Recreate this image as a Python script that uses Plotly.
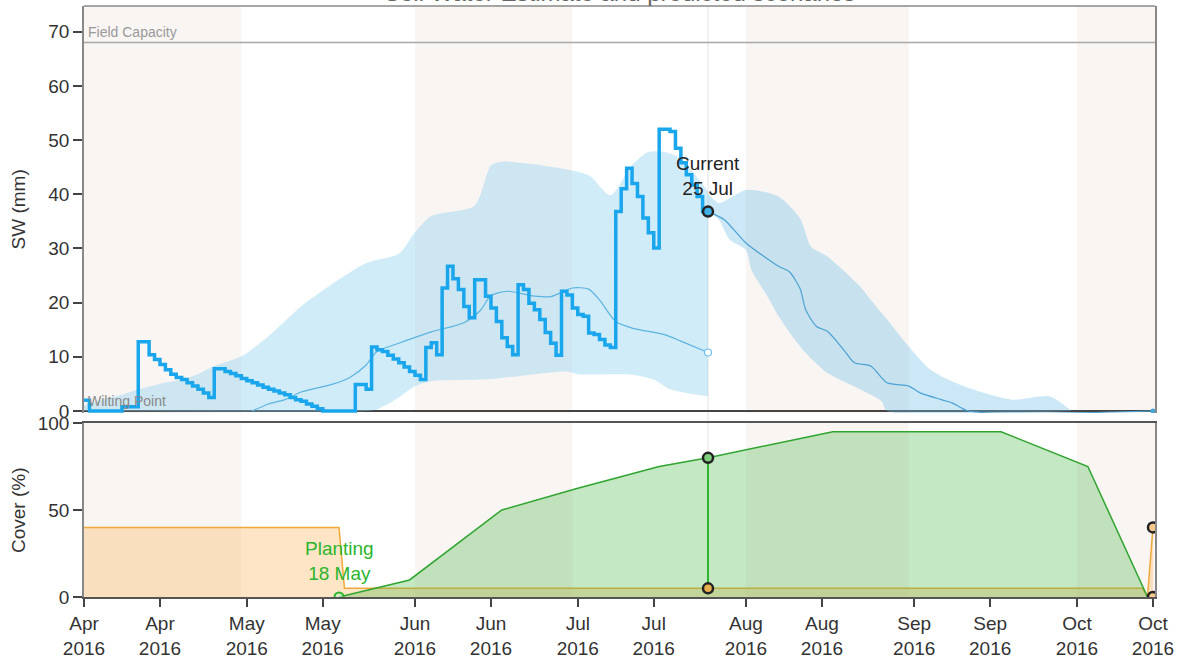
import pandas as pd
import plotly.graph_objects as go

# ---------------- data ----------------
obs_start = "2016-04-01"
# Daily soil-water estimate (mm) from 1 Apr to 25 Jul 2016
sw_observed = [2.0, 0, 0, 0, 0, 0, 0, 0.8, 0.8, 0.8,
               12.8, 12.8, 10.4, 9.5, 8.6, 7.6, 6.8, 6.2, 5.8, 5.2,
               4.6, 4.0, 3.3, 2.5, 7.8, 7.8, 7.3, 6.9, 6.5, 6.0,
               5.6, 5.2, 4.8, 4.4, 4.0, 3.7, 3.3, 3.0, 2.5, 2.1,
               1.8, 1.3, 0.9, 0.4, 0, 0, 0, 0, 0, 0,
               4.9, 4.9, 4.0, 11.8, 11.3, 11.0, 10.3, 9.6, 8.9, 8.1,
               7.3, 6.6, 5.8, 11.7, 12.6, 10.4, 22.7, 26.7, 24.4, 22.4,
               19.3, 17.2, 24.2, 24.2, 21.2, 19.0, 16.5, 13.5, 11.9, 10.4,
               23.3, 22.4, 19.9, 18.7, 16.9, 14.5, 12.5, 10.3, 22.1, 21.4,
               19.0, 17.8, 17.5, 14.4, 14.1, 13.2, 12.2, 11.7, 36.8, 41.0,
               44.8, 42.0, 39.6, 35.6, 32.9, 30.1, 52.0, 52.0, 51.6, 48.5,
               45.8, 43.6, 41.7, 39.6, 36.8, 36.8]

# Historical range up to the current date
hist_upper_dates = ["2016-04-01", "2016-04-04", "2016-04-08", "2016-04-11", "2016-04-15",
                    "2016-04-19", "2016-04-22", "2016-04-25", "2016-04-30", "2016-05-05",
                    "2016-05-11", "2016-05-17", "2016-05-23", "2016-05-29", "2016-06-01",
                    "2016-06-04", "2016-06-12", "2016-06-15", "2016-06-17", "2016-06-24",
                    "2016-07-03", "2016-07-07", "2016-07-11", "2016-07-14", "2016-07-17",
                    "2016-07-20", "2016-07-25"]
hist_upper = [1.0, 2.0, 3.0, 4.0, 5.0, 5.8, 6.8, 8.3, 10.1, 13.8,
              19.3, 23.6, 27.3, 29.0, 33.0, 36.0, 37.9, 45.3, 46.0, 45.4,
              43.5, 39.8, 45.4, 47.8, 47.8, 46.6, 40.5]
hist_lower_dates = ["2016-04-01", "2016-05-23", "2016-05-25", "2016-05-29", "2016-06-01",
                    "2016-06-04", "2016-06-13", "2016-06-17", "2016-06-29", "2016-07-01",
                    "2016-07-11", "2016-07-15", "2016-07-18", "2016-07-25"]
hist_lower = [0, 0, 0.3, 2.5, 4.6, 5.5, 5.8, 6.1, 7.3, 6.8, 6.7, 5.8, 4.0, 2.7]
hist_median_dates = ["2016-05-02", "2016-05-05", "2016-05-08", "2016-05-11", "2016-05-17",
                     "2016-05-20", "2016-05-23", "2016-05-25", "2016-05-29", "2016-06-04",
                     "2016-06-10", "2016-06-13", "2016-06-15", "2016-06-18", "2016-06-23",
                     "2016-06-26", "2016-06-30", "2016-07-03", "2016-07-05", "2016-07-08",
                     "2016-07-11", "2016-07-17", "2016-07-20", "2016-07-25"]
hist_median = [0, 1.3, 2.1, 3.5, 5.0, 6.2, 8.5, 11.0, 12.5, 14.6,
               16.3, 18.5, 21.3, 22.1, 21.2, 21.1, 22.7, 22.5, 20.5, 16.5,
               15.3, 14.1, 12.9, 10.8]

# Forecast range from the current date
fc_upper_dates = ["2016-07-25", "2016-07-27", "2016-08-01", "2016-08-07", "2016-08-11",
                  "2016-08-13", "2016-08-16", "2016-08-22", "2016-08-24", "2016-08-27",
                  "2016-08-31", "2016-09-04", "2016-09-10", "2016-09-19", "2016-09-26",
                  "2016-09-30"]
fc_upper = [40.2, 38.4, 40.8, 39.6, 35.5, 30.3, 28.5, 23.0, 20.5, 16.9,
            11.9, 7.6, 4.6, 2.1, 2.7, 0]
fc_lower_dates = ["2016-07-25", "2016-07-27", "2016-07-29", "2016-08-01", "2016-08-02",
                  "2016-08-05", "2016-08-07", "2016-08-10", "2016-08-12", "2016-08-16",
                  "2016-08-22", "2016-08-26", "2016-08-27", "2016-09-30"]
fc_lower = [36.8, 35.3, 31.6, 29.7, 26.0, 21.1, 17.5, 13.2, 10.7, 7.0, 4.0, 1.8, 0, 0]
fc_median_dates = ["2016-07-25", "2016-07-28", "2016-08-01", "2016-08-07", "2016-08-09",
                   "2016-08-11", "2016-08-12", "2016-08-14", "2016-08-16", "2016-08-19",
                   "2016-08-21", "2016-08-24", "2016-08-27", "2016-08-31", "2016-09-02",
                   "2016-09-06", "2016-09-08", "2016-09-11", "2016-10-15"]
fc_median = [36.8, 35.3, 31.0, 26.7, 25.7, 22.5, 18.7, 15.6, 14.7, 11.3,
             8.9, 8.3, 5.2, 4.6, 3.4, 2.1, 1.5, 0, 0]

field_capacity = 68
wilting_point = 0

current_date = "2016-07-25"
current_sw = 36.8
current_median = 10.8

# Cover (%)
crop_dates = ["2016-05-18", "2016-05-31", "2016-06-17", "2016-07-01", "2016-07-16",
              "2016-07-25", "2016-08-17", "2016-09-17", "2016-10-03", "2016-10-14"]
crop_cover = [0, 9.8, 50, 62.5, 75, 80, 95, 95, 75, 0]
residue_dates = ["2016-04-01", "2016-05-18", "2016-05-19", "2016-10-13", "2016-10-14", "2016-10-15"]
residue_cover = [40, 40, 5, 5, 0.5, 40]
planting_date = "2016-05-18"
current_crop_cover = 80
current_residue_cover = 5
end_date = "2016-10-15"
end_residue_cover = 40

tick_dates = ["2016-04-01", "2016-04-15", "2016-05-01", "2016-05-15", "2016-06-01",
              "2016-06-15", "2016-07-01", "2016-07-15", "2016-08-01", "2016-08-15",
              "2016-09-01", "2016-09-15", "2016-10-01", "2016-10-15"]
shaded_months = [("2016-04-01", "2016-04-30"), ("2016-06-01", "2016-06-30"),
                 ("2016-08-01", "2016-08-31"), ("2016-10-01", "2016-10-15 09:00")]
x_range = ["2016-04-01", "2016-10-15 09:00"]

# ---------------- figure ----------------
FONT = "Liberation Sans, Arial, sans-serif"
obs_dates = pd.date_range(obs_start, periods=len(sw_observed), freq="D")

fig = go.Figure()

# historical band
fig.add_trace(go.Scatter(x=hist_lower_dates, y=hist_lower, mode="lines",
                         line=dict(width=0, shape="spline", smoothing=0.7),
                         xaxis="x", yaxis="y", hoverinfo="skip"))
fig.add_trace(go.Scatter(x=hist_upper_dates, y=hist_upper, mode="lines",
                         line=dict(width=0, shape="spline", smoothing=0.7),
                         fill="tonexty", fillcolor="rgba(135,206,240,0.38)",
                         xaxis="x", yaxis="y", hoverinfo="skip"))
# forecast band
fig.add_trace(go.Scatter(x=fc_lower_dates, y=fc_lower, mode="lines",
                         line=dict(width=0, shape="spline", smoothing=0.7),
                         xaxis="x", yaxis="y", hoverinfo="skip"))
fig.add_trace(go.Scatter(x=fc_upper_dates, y=fc_upper, mode="lines",
                         line=dict(width=0, shape="spline", smoothing=0.7),
                         fill="tonexty", fillcolor="rgba(115,192,232,0.36)",
                         xaxis="x", yaxis="y", hoverinfo="skip"))
# medians
fig.add_trace(go.Scatter(x=hist_median_dates, y=hist_median, mode="lines",
                         line=dict(width=1.2, color="#5ab4e0", shape="spline", smoothing=0.7),
                         xaxis="x", yaxis="y"))
fig.add_trace(go.Scatter(x=fc_median_dates, y=fc_median, mode="lines",
                         line=dict(width=1.2, color="#4aa3d3", shape="spline", smoothing=0.7),
                         xaxis="x", yaxis="y"))
# observed daily soil water
fig.add_trace(go.Scatter(x=obs_dates, y=sw_observed, mode="lines",
                         line=dict(width=3.5, color="#19a6ec", shape="hv"),
                         xaxis="x", yaxis="y"))
# markers at the current date
fig.add_trace(go.Scatter(x=[current_date], y=[current_median], mode="markers",
                         marker=dict(size=7, color="white", line=dict(width=1.2, color="#6ec0e8")),
                         xaxis="x", yaxis="y"))
fig.add_trace(go.Scatter(x=[current_date], y=[current_sw], mode="markers",
                         marker=dict(size=10, color="#3fb0e6", line=dict(width=2.5, color="#222")),
                         xaxis="x", yaxis="y"))
fig.add_trace(go.Scatter(x=[end_date], y=[wilting_point], mode="markers",
                         marker=dict(size=5, color="#4aa3d3"),
                         xaxis="x", yaxis="y"))

# cover panel
fig.add_trace(go.Scatter(x=residue_dates, y=residue_cover, mode="lines",
                         line=dict(width=1.5, color="#f2a93b"),
                         fill="tozeroy", fillcolor="rgba(250,190,110,0.40)",
                         xaxis="x2", yaxis="y2"))
fig.add_trace(go.Scatter(x=crop_dates, y=crop_cover, mode="lines",
                         line=dict(width=1.5, color="#2fa52f"),
                         fill="tozeroy", fillcolor="rgba(70,185,70,0.32)",
                         xaxis="x2", yaxis="y2"))
fig.add_trace(go.Scatter(x=[current_date, current_date],
                         y=[current_residue_cover, current_crop_cover], mode="lines",
                         line=dict(width=2, color="#2db52d"),
                         xaxis="x2", yaxis="y2"))
fig.add_trace(go.Scatter(x=[planting_date], y=[0], mode="markers",
                         marker=dict(size=9, color="rgba(200,240,200,0.6)",
                                     line=dict(width=2, color="#2db52d")),
                         xaxis="x2", yaxis="y2"))
fig.add_trace(go.Scatter(x=[current_date], y=[current_crop_cover], mode="markers",
                         marker=dict(size=10, color="#7fcf7f", line=dict(width=2.5, color="#222")),
                         xaxis="x2", yaxis="y2"))
fig.add_trace(go.Scatter(x=[current_date], y=[current_residue_cover], mode="markers",
                         marker=dict(size=10, color="#e8b050", line=dict(width=2.5, color="#222")),
                         xaxis="x2", yaxis="y2"))
fig.add_trace(go.Scatter(x=[end_date, end_date], y=[end_residue_cover, 0], mode="markers",
                         marker=dict(size=10, color="#f6c98a", line=dict(width=2.5, color="#222")),
                         xaxis="x2", yaxis="y2"))

# ---------------- shapes ----------------
shapes = []
for x0, x1 in shaded_months:
    for yr in ("y domain", "y2 domain"):
        shapes.append(dict(type="rect", xref="x", yref=yr, x0=x0, x1=x1, y0=0, y1=1,
                           fillcolor="#f9f5f3", line=dict(width=0), layer="below"))
shapes.append(dict(type="line", xref="x", yref="paper", x0=current_date, x1=current_date,
                   y0=0, y1=1, line=dict(color="#e2e2e2", width=1), layer="below"))
shapes.append(dict(type="line", xref="x domain", yref="y", x0=0, x1=1,
                   y0=field_capacity, y1=field_capacity, line=dict(color="#a8a8a8", width=1.5)))
shapes.append(dict(type="line", xref="x domain", yref="y", x0=0, x1=1,
                   y0=wilting_point, y1=wilting_point, line=dict(color="#444", width=2),
                   layer="below"))
shapes.append(dict(type="line", xref="x domain", yref="y domain", x0=0, x1=1,
                   y0=1, y1=1, line=dict(color="#888", width=1.5)))

# ---------------- annotations ----------------
annotations = [
    dict(text="Soil Water Estimate and predicted scenarios", xref="paper", yref="paper",
         x=0.5, y=1, xanchor="center", yanchor="bottom", yshift=-2, showarrow=False,
         font=dict(family=FONT, size=24, color="#666")),
    dict(text="Field Capacity", xref="x domain", yref="y", x=0.002, y=field_capacity,
         xanchor="left", yanchor="bottom", yshift=1, showarrow=False,
         font=dict(family=FONT, size=14, color="#999")),
    dict(text="Wilting Point", xref="x domain", yref="y", x=0.002, y=wilting_point,
         xanchor="left", yanchor="bottom", yshift=0, showarrow=False,
         font=dict(family=FONT, size=14, color="#888")),
    dict(text="Current<br>25 Jul", xref="x", yref="y", x=current_date, y=43.4,
         xanchor="center", yanchor="middle", showarrow=False,
         font=dict(family=FONT, size=19, color="#222")),
    dict(text="Planting<br>18 May", xref="x2", yref="y2", x=planting_date, y=20.7,
         xanchor="center", yanchor="middle", showarrow=False,
         font=dict(family=FONT, size=19, color="#2db52d")),
    dict(text="SW (mm)", xref="paper", yref="y domain", x=-0.0616, y=0.5,
         xanchor="center", yanchor="middle", textangle=-90, showarrow=False,
         font=dict(family=FONT, size=19, color="#333")),
    dict(text="Cover (%)", xref="paper", yref="y2 domain", x=-0.0616, y=0.5,
         xanchor="center", yanchor="middle", textangle=-90, showarrow=False,
         font=dict(family=FONT, size=19, color="#333")),
]

tickfont = dict(family=FONT, size=19, color="#333")
fig.update_layout(
    width=1188, height=659,
    margin=dict(l=84, r=33, t=6, b=62, autoexpand=False),
    paper_bgcolor="white", plot_bgcolor="white",
    showlegend=False,
    font=dict(family=FONT),
    shapes=shapes, annotations=annotations,
    xaxis=dict(domain=[0, 1], anchor="y", type="date", range=x_range,
               showticklabels=False, ticks="", showgrid=False, zeroline=False,
               showline=False),
    yaxis=dict(domain=[0.3115, 1], anchor="x", range=[-0.35, 74.74],
               tickvals=[0, 10, 20, 30, 40, 50, 60, 70], ticks="outside", ticklen=9,
               tickwidth=1.5, tickcolor="#444", tickfont=tickfont,
               showline=True, mirror=True, linecolor="#888", linewidth=1.5,
               showgrid=False, zeroline=False),
    xaxis2=dict(domain=[0, 1], anchor="y2", type="date", range=x_range,
                tickvals=tick_dates, tickformat="%b<br>%Y", ticks="outside", ticklen=8,
                tickwidth=1.5, tickcolor="#444", tickfont=tickfont,
                showline=True, mirror=True, linecolor="#555", linewidth=2,
                showgrid=False, zeroline=False),
    yaxis2=dict(domain=[0, 0.2944], anchor="x2", range=[0, 100],
                tickvals=[0, 50, 100], ticks="outside", ticklen=9,
                tickwidth=1.5, tickcolor="#444", tickfont=tickfont,
                showline=True, mirror=True, linecolor="#888", linewidth=1.5,
                showgrid=False, zeroline=False),
)

fig.write_html("out.html")
